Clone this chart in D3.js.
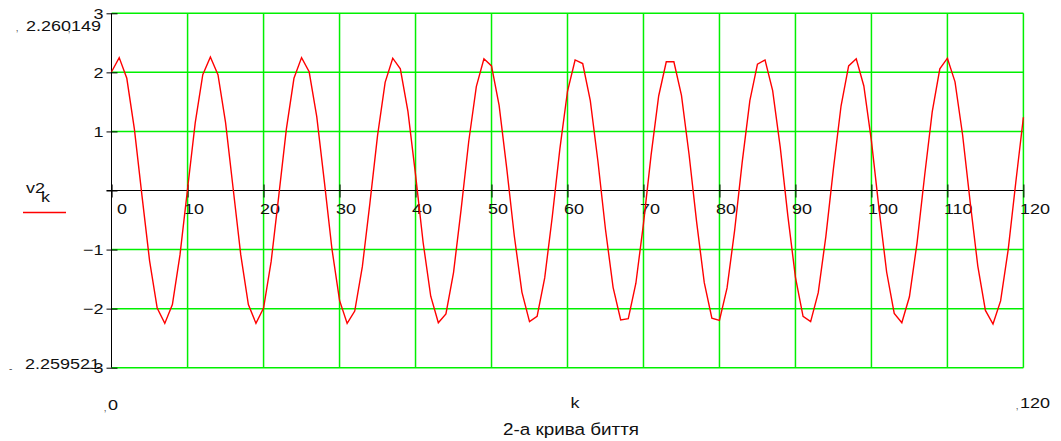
<!DOCTYPE html>
<html>
<head>
<meta charset="utf-8">
<script src="https://cdn.jsdelivr.net/npm/d3@7"></script>
<style>
  html, body { margin: 0; padding: 0; background: #fff; }
  svg { display: block; font-family: "Liberation Sans", Arial, sans-serif; }
</style>
</head>
<body>
<svg id="chart" width="1061" height="441"></svg>
<script>
// Sample index k and the sampled beat signal v2_k
const kValues = d3.range(0, 121);
const v2Values = [
  2.01, 2.25, 1.90, 1.04, -0.09, -1.19, -1.99, -2.25, -1.93, -1.09,
  0.03, 1.14, 1.96, 2.26, 1.96, 1.15, 0.03, -1.09, -1.93, -2.25,
  -1.99, -1.20, -0.09, 1.04, 1.90, 2.25, 2.01, 1.25, 0.15, -0.99,
  -1.86, -2.25, -2.04, -1.29, -0.21, 0.93, 1.83, 2.24, 2.06, 1.34,
  0.27, -0.88, -1.79, -2.24, -2.09, -1.39, -0.32, 0.83, 1.76, 2.23,
  2.11, 1.44, 0.38, -0.77, -1.72, -2.22, -2.13, -1.48, -0.44, 0.71,
  1.68, 2.21, 2.15, 1.52, 0.50, -0.66, -1.64, -2.19, -2.17, -1.57,
  -0.56, 0.60, 1.60, 2.18, 2.18, 1.61, 0.61, -0.54, -1.56, -2.16,
  -2.20, -1.65, -0.67, 0.49, 1.52, 2.14, 2.21, 1.69, 0.73, -0.43,
  -1.47, -2.13, -2.22, -1.73, -0.78, 0.37, 1.43, 2.11, 2.23, 1.77,
  0.84, -0.31, -1.38, -2.08, -2.24, -1.80, -0.89, 0.25, 1.33, 2.06,
  2.24, 1.84, 0.94, -0.20, -1.28, -2.03, -2.26, -1.87, -1.00, 0.14,
  1.24
];

// Axis ticks and range labels
const xTicks = [0, 10, 20, 30, 40, 50, 60, 70, 80, 90, 100, 110, 120];
const yTicks = [-3, -2, -1, 0, 1, 2, 3];
const yTickLabels = ["\u22123", "\u22122", "\u22121", "", "1", "2", "3"];
const yRangeTop = "2.260149";
const yRangeBottom = "2.259521";
const xRangeLeft = "0";
const xRangeRight = "120";
const xAxisTitle = "k";
const chartTitle = "2-а крива биття";
const legendName = "v2";
const legendSub = "k";

const svg = d3.select("#chart");
const plotLeft = 111.6, plotRight = 1023.4, plotTop = 13.3, plotBottom = 367.7;

const x = d3.scaleLinear().domain([0, 120]).range([plotLeft, plotRight]);
const y = d3.scaleLinear().domain([-3, 3]).range([plotBottom, plotTop]);

// Pixel-aligned position for the black axis rules
const px = v => Math.floor(v) + 0.5;

const gridColor = "#00f000";
const stretch = 1.2;          // labels are set a little wide
const labelFont = "Liberation Sans, Arial, sans-serif";

// Grid: vertical lines at every x tick except the y axis itself
svg.append("g").selectAll("line")
  .data(xTicks.filter(d => d !== 0))
  .join("line")
  .attr("x1", d => x(d)).attr("x2", d => x(d))
  .attr("y1", y(3)).attr("y2", y(-3))
  .attr("stroke", gridColor).attr("stroke-width", 1.5);

// Grid: horizontal lines at every y tick except the zero axis
svg.append("g").selectAll("line")
  .data(yTicks.filter(d => d !== 0))
  .join("line")
  .attr("x1", x(0)).attr("x2", x(120))
  .attr("y1", d => y(d)).attr("y2", d => y(d))
  .attr("stroke", gridColor).attr("stroke-width", 1.5);

// Y axis on the left edge, ticks crossing the axis line
const yAxis = svg.append("g")
  .attr("transform", `translate(${px(x(0))},0)`)
  .call(d3.axisLeft(y).tickValues(yTicks).tickSize(5)
    .tickFormat((d, i) => yTickLabels[i]));
yAxis.select(".domain").attr("d", `M0,${y(3)}V${y(-3)}`).attr("stroke", "#000");
yAxis.selectAll(".tick line").attr("x1", -5).attr("x2", 6).attr("stroke", "#000");
yAxis.selectAll(".tick text")
  .attr("x", -8 / stretch)
  .attr("transform", `scale(${stretch},1)`)
  .attr("font-size", 15).attr("fill", "#111")
  .attr("font-family", labelFont);

// X axis drawn along the zero line
const xAxis = svg.append("g")
  .attr("transform", `translate(0,${px(y(0))})`)
  .call(d3.axisBottom(x).tickValues(xTicks).tickSize(6));
xAxis.select(".domain").attr("d", `M${x(0) - 5},0H${x(120)}`).attr("stroke", "#000");
xAxis.selectAll(".tick line").attr("y1", -6).attr("y2", 7).attr("stroke", "#000");
xAxis.selectAll(".tick text")
  .attr("text-anchor", "start")
  .attr("x", d => (d === 0 ? 5 : -4) / stretch)
  .attr("transform", `scale(${stretch},1)`)
  .attr("y", 13)
  .attr("dy", "0.71em")
  .attr("font-size", 15).attr("fill", "#111")
  .attr("font-family", labelFont);

// The sampled curve
const line = d3.line()
  .x((d, i) => x(kValues[i]))
  .y(d => y(d));
svg.append("path")
  .datum(v2Values)
  .attr("d", line)
  .attr("fill", "none")
  .attr("stroke", "#ff0000")
  .attr("stroke-width", 1.4)
  .attr("stroke-linejoin", "miter");

// Free text, optionally widened
const txt = (sx, sy, s, size, anchor, fill, wide) => {
  const k = wide || stretch;
  return svg.append("text")
    .attr("transform", `translate(${sx},${sy}) scale(${k},1)`)
    .text(s)
    .attr("font-size", size).attr("text-anchor", anchor || "start")
    .attr("fill", fill || "#111");
};

// Range labels of the plot
txt(101, 31, yRangeTop, 15, "end");
txt(16, 31, "\u201A", 10, "start", "#555", 1);
txt(68, 32, "\u201A", 10, "start", "#555", 1);
txt(100, 369, yRangeBottom, 15, "end");
txt(9, 372, "-", 10, "start", "#555", 1);
txt(113, 410, xRangeLeft, 15, "middle");
txt(104, 411, "\u201A", 10, "start", "#555", 1);
txt(1035, 408, xRangeRight, 15, "middle");
txt(1016, 409, "\u201A", 10, "start", "#555", 1);
txt(575, 408, xAxisTitle, 15, "middle");
txt(571, 435, chartTitle, 17, "middle", "#111", 1.11);

// Legend entry
txt(26, 193, legendName, 15, "start");
txt(41, 202, legendSub, 15, "start");
svg.append("line")
  .attr("x1", 23).attr("x2", 66)
  .attr("y1", 212.5).attr("y2", 212.5)
  .attr("stroke", "#ff0000").attr("stroke-width", 1.4);
</script>
</body>
</html>
